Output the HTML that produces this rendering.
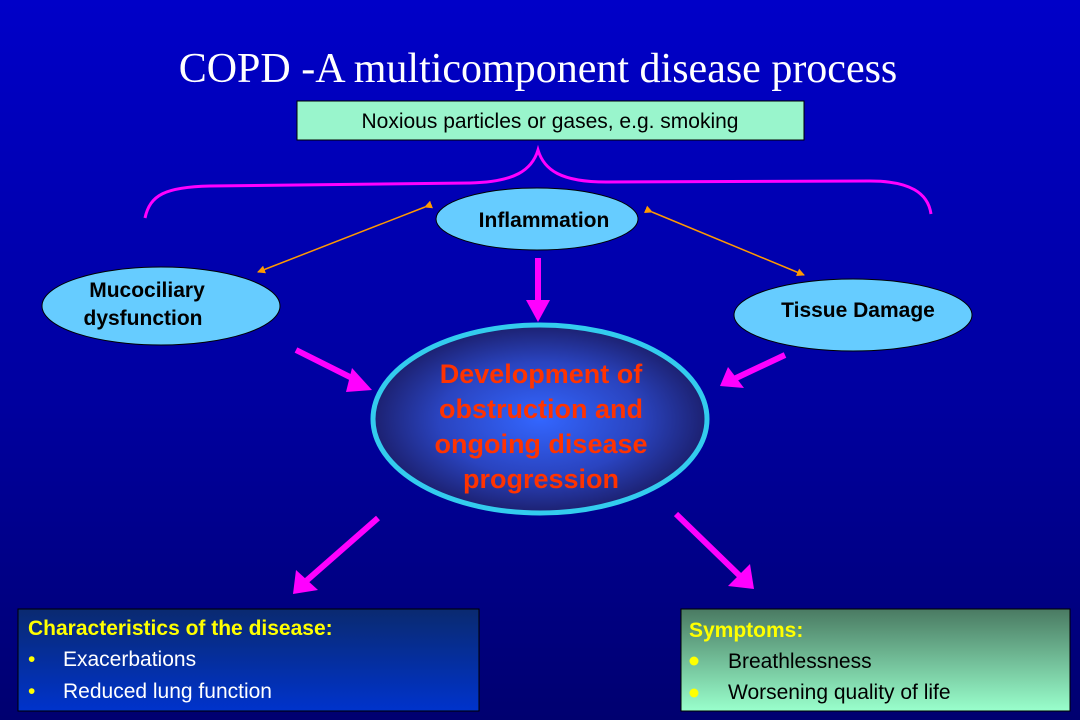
<!DOCTYPE html>
<html><head><meta charset="utf-8"><style>
html,body{margin:0;padding:0}
body{width:1080px;height:720px;overflow:hidden;font-family:"Liberation Sans",Arial,sans-serif}
</style></head><body>
<svg width="1080" height="720" xmlns="http://www.w3.org/2000/svg">
<defs>
<linearGradient id="bg" x1="0" y1="0" x2="0" y2="1">
<stop offset="0" stop-color="#0000c8"/><stop offset="0.55" stop-color="#0000a0"/><stop offset="1" stop-color="#000070"/>
</linearGradient>
<radialGradient id="cg" cx="0.5" cy="0.5" r="0.5">
<stop offset="0" stop-color="#3366ff"/><stop offset="0.6" stop-color="#2a44c0"/><stop offset="1" stop-color="#1c2070"/>
</radialGradient>
<linearGradient id="lb" x1="0" y1="0" x2="0" y2="1">
<stop offset="0" stop-color="#0a2a70"/><stop offset="1" stop-color="#0033cc"/>
</linearGradient>
<linearGradient id="rb" x1="0" y1="0" x2="0" y2="1">
<stop offset="0" stop-color="#4a7a62"/><stop offset="1" stop-color="#99ffcc"/>
</linearGradient>
<marker id="oa" markerWidth="8" markerHeight="8" refX="7" refY="4" orient="auto" markerUnits="userSpaceOnUse">
<path d="M0,0 L8,4 L0,8 z" fill="#ff9900"/></marker>
<marker id="ma" markerWidth="10" markerHeight="10" refX="2" refY="5" orient="auto" markerUnits="strokeWidth">
<path d="M0,0 L5,5 L0,10" fill="none"/></marker>
</defs>
<rect width="1080" height="720" fill="url(#bg)"/>
<text x="538" y="82" text-anchor="middle" font-family="Liberation Serif,serif" font-size="42" fill="#fff">COPD -A multicomponent disease process</text>
<rect x="297" y="101" width="507" height="39" fill="#99f5cc" stroke="#000" stroke-width="1"/>
<text x="550" y="128" text-anchor="middle" font-size="21" fill="#000">Noxious particles or gases, e.g. smoking</text>
<path d="M145,218 C150,195 165,187 210,186 L470,183 C515,182 532,170 538,150 C544,170 561,182 606,182 L870,181 C910,181 928,193 931,214" fill="none" stroke="#ff00ff" stroke-width="3"/>
<ellipse cx="537" cy="219" rx="101" ry="31" fill="#66ccff" stroke="#000"/>
<text x="544" y="227" text-anchor="middle" font-size="21" font-weight="bold" fill="#000">Inflammation</text>
<ellipse cx="161" cy="306" rx="119" ry="39" fill="#66ccff" stroke="#000"/>
<text x="147" y="297" text-anchor="middle" font-size="21" font-weight="bold" fill="#000">Mucociliary</text>
<text x="143" y="325" text-anchor="middle" font-size="21" font-weight="bold" fill="#000">dysfunction</text>
<ellipse cx="853" cy="315" rx="119" ry="36" fill="#66ccff" stroke="#000"/>
<text x="858" y="317" text-anchor="middle" font-size="21" font-weight="bold" fill="#000">Tissue Damage</text>
<line x1="425" y1="207" x2="258" y2="272" stroke="#ff9900" stroke-width="1.5" marker-end="url(#oa)" marker-start="url(#oa)"/>
<line x1="652" y1="212" x2="804" y2="275" stroke="#ff9900" stroke-width="1.5" marker-end="url(#oa)" marker-start="url(#oa)"/>
<g stroke="#ff00ff" stroke-width="6" fill="#ff00ff">
<line x1="538" y1="258" x2="538" y2="305"/>
<line x1="296" y1="350" x2="358" y2="381"/>
<line x1="785" y1="355" x2="734" y2="379"/>
<line x1="378" y1="518" x2="305" y2="582"/>
<line x1="676" y1="514" x2="741" y2="577"/>
</g>
<g fill="#ff00ff">
<polygon points="526,300 550,300 538,322"/>
<polygon points="352,368 372,390 346,392"/>
<polygon points="728,367 720,386 744,388"/>
<polygon points="293,594 296,570 318,590"/>
<polygon points="754,589 728,586 750,564"/>
</g>
<ellipse cx="540" cy="419" rx="167" ry="94" fill="url(#cg)" stroke="#33ccee" stroke-width="5"/>
<g font-size="27" font-weight="bold" fill="#ff3300" text-anchor="middle">
<text x="541" y="383">Development of</text>
<text x="541" y="418">obstruction and</text>
<text x="541" y="453">ongoing disease</text>
<text x="541" y="488">progression</text>
</g>
<rect x="18" y="609" width="461" height="102" fill="url(#lb)" stroke="#000"/>
<text x="28" y="635" font-size="21" font-weight="bold" fill="#ffff00">Characteristics of the disease:</text>
<text x="28" y="666" font-size="21" fill="#ffff00">•</text>
<text x="63" y="666" font-size="21" fill="#fff">Exacerbations</text>
<text x="28" y="698" font-size="21" fill="#ffff00">•</text>
<text x="63" y="698" font-size="21" fill="#fff">Reduced lung function</text>
<rect x="681" y="609" width="389" height="102" fill="url(#rb)" stroke="#000"/>
<text x="689" y="637" font-size="21" font-weight="bold" fill="#ffff00">Symptoms:</text>
<circle cx="694" cy="661" r="4.5" fill="#ffff00"/>
<text x="728" y="668" font-size="21" fill="#000">Breathlessness</text>
<circle cx="694" cy="693" r="4.5" fill="#ffff00"/>
<text x="728" y="699" font-size="21" fill="#000">Worsening quality of life</text>
</svg>
</body></html>
